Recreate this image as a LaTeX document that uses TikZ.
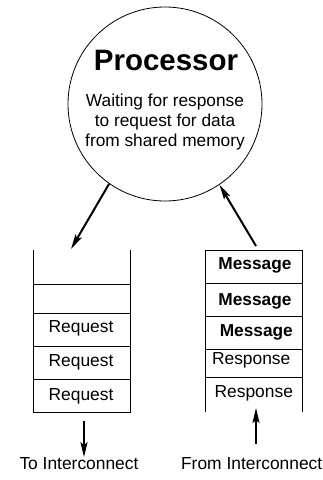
\documentclass[tikz,border=0pt]{standalone}
\usepackage{fontspec}
\setmainfont{Liberation Sans}
\usetikzlibrary{arrows.meta}
\tikzstyle{proc} = [circle, draw=black, line width=0.8pt, minimum size=194pt, inner sep=0pt]
\tikzstyle{cell} = [anchor=base, inner sep=0pt, font=\fontsize{17.4}{20}\selectfont]
\tikzstyle{msg} = [cell, font=\fontsize{17.3}{20}\selectfont\bfseries]
\tikzstyle{frame} = [line width=0.8pt]
\tikzstyle{arrow} = [line width=2pt, -{Stealth[length=15pt, width=7pt, inset=3pt]}]
\begin{document}
\begin{tikzpicture}[x=1pt, y=-1pt]
      \useasboundingbox (0,0) rectangle (323,480);

      \node (cpu)   [proc] at (165,104) {};
      \node (title) [anchor=base, inner sep=0pt, font=\fontsize{29.5}{30}\selectfont\bfseries] at (166,70) {Processor};
      \node (state) [align=center, inner sep=0pt, font=\fontsize{17.3}{19.7}\selectfont] at (165,122) {Waiting for response\\to request for data\\from shared memory};

      % request queue, open at the top
      \draw [frame] (33,250) -- (33,412.3) -- (130,412.3) -- (130,250);
      \draw [frame] (33,284.3) -- (130,284.3);
      \draw [frame] (33,313.3) -- (130,313.3);
      \draw [frame] (33,346.7) -- (130,346.7);
      \draw [frame] (33,379.3) -- (130,379.3);
      \node (req1)  [cell] at (81,332)   {Request};
      \node (req2)  [cell] at (81,366)   {Request};
      \node (req3)  [cell] at (81,400)   {Request};

      % message queue, open at the bottom
      \draw [frame] (205,412.3) -- (205,250) -- (302,250) -- (302,412.3);
      \draw [frame] (205,283.3) -- (302,283.3);
      \draw [frame] (205,316)   -- (302,316);
      \draw [frame] (205,349.3) -- (302,349.3);
      \draw [frame] (205,377.7) -- (302,377.7);
      \node (msg1)  [msg]  at (255,269.3)   {Message};
      \node (msg2)  [msg]  at (255,305)     {Message};
      \node (msg3)  [msg]  at (256.3,336.7) {Message};
      \node (resp1) [cell] at (251.2,364.3) {Response};
      \node (resp2) [cell] at (253.8,397.7) {Response};

      \node (tolbl)   [cell] at (79,469.3)  {To Interconnect};
      \node (fromlbl) [cell] at (251.7,469.3) {From Interconnect};

      \coordinate (reqin)   at (71,249);
      \coordinate (msgout)  at (256,246);
      \coordinate (reqout)  at (84,421);
      \coordinate (respout) at (256,444);
      \coordinate (respin)  at (256,408);

      \draw [arrow] (cpu.235.5) -- (reqin);
      \draw [arrow] (msgout)    -- (cpu.304.4);
      \draw [arrow] (reqout)    -- (reqout |- tolbl.north);
      \draw [arrow] (respout)   -- (respin);
\end{tikzpicture}
\end{document}
